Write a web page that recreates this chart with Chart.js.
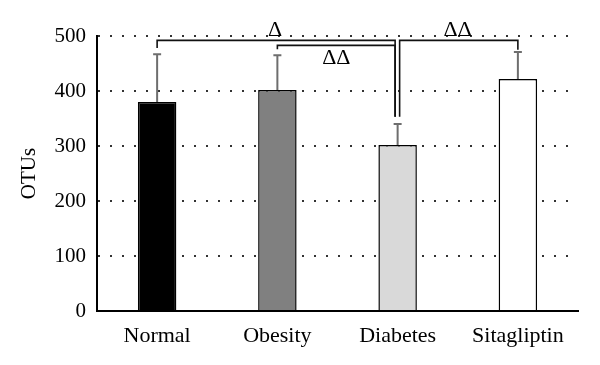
<!DOCTYPE html>
<html>
<head>
<meta charset="utf-8">
<script src="https://cdn.jsdelivr.net/npm/chart.js@4/dist/chart.umd.min.js"></script>
<style>
  html, body { margin: 0; padding: 0; background: #fff; }
  #wrap { width: 600px; height: 365px; }
</style>
</head>
<body>
<div id="wrap"><canvas id="grafico"></canvas></div>
<script>
// dados
const categories = ['Normal', 'Obesity', 'Diabetes', 'Sitagliptin'];
const otus = [380, 402, 302, 422];
const errTop = [467, 465, 340, 471];
const barColors = ['#000000', '#808080', '#d9d9d9', '#ffffff'];
const yTicks = [0, 100, 200, 300, 400, 500];

// colchetes de significância
const brackets = [
  { from: 0, to: 2, level: 492, legFrom: 478, legTo: 353, dxA: 0, dxB: -2.5 },
  { from: 1, to: 2, level: 483, legFrom: 476, legTo: 353, dxA: 0, dxB: -2.5 },
  { from: 2, to: 3, level: 492, legFrom: 353, legTo: 475, dxA: 2, dxB: 0 }
];
const marks = [
  { text: 'Δ', x: 0.98, y: 510 },
  { text: 'ΔΔ', x: 1.49, y: 459 },
  { text: 'ΔΔ', x: 2.5, y: 510 }
];

const serif = 'Liberation Serif';

const extras = {
  id: 'extras',
  afterDatasetsDraw(chart) {
    const ctx = chart.ctx;
    const x = chart.scales.x, y = chart.scales.y;
    ctx.save();
    // barras de erro
    ctx.strokeStyle = '#6e6e6e';
    ctx.lineWidth = 2;
    otus.forEach((v, i) => {
      const px = x.getPixelForValue(i);
      const y0 = y.getPixelForValue(v);
      const y1 = y.getPixelForValue(errTop[i]);
      ctx.beginPath();
      ctx.moveTo(px, y0); ctx.lineTo(px, y1);
      ctx.moveTo(px - 4, y1); ctx.lineTo(px + 4, y1);
      ctx.stroke();
    });
    // colchetes
    ctx.strokeStyle = '#111';
    ctx.lineWidth = 1.6;
    brackets.forEach(b => {
      const xa = x.getPixelForValue(b.from) + b.dxA;
      const xb = x.getPixelForValue(b.to) + b.dxB;
      const yl = y.getPixelForValue(b.level);
      ctx.beginPath();
      ctx.moveTo(xa, y.getPixelForValue(b.legFrom));
      ctx.lineTo(xa, yl);
      ctx.lineTo(xb, yl);
      ctx.lineTo(xb, y.getPixelForValue(b.legTo));
      ctx.stroke();
    });
    ctx.fillStyle = '#000';
    ctx.font = '22px "' + serif + '"';
    ctx.textAlign = 'center';
    ctx.textBaseline = 'middle';
    marks.forEach(m => {
      ctx.fillText(m.text, x.getPixelForValue(m.x), y.getPixelForValue(m.y));
    });
    ctx.restore();
  }
};

const config = {
  type: 'bar',
  data: {
    labels: categories,
    datasets: [{
      data: otus,
      backgroundColor: barColors,
      borderColor: '#000',
      borderWidth: 1.5,
      barPercentage: 0.32,
      categoryPercentage: 1
    }]
  },
  options: {
    responsive: true,
    maintainAspectRatio: false,
    animation: false,
    layout: { padding: { top: 36, right: 22, left: 0, bottom: 0 } },
    plugins: { legend: { display: false }, tooltip: { enabled: false } },
    scales: {
      x: {
        grid: { display: false },
        border: { color: '#000', width: 2 },
        ticks: { color: '#000', font: { family: serif, size: 22 }, padding: 4 },
        afterFit(s) { s.height = 54; }
      },
      y: {
        min: 0, max: 500,
        afterBuildTicks(s) { s.ticks = yTicks.map(v => ({ value: v })); },
        grid: { color: '#333', lineWidth: 2, tickLength: 0, drawTicks: false },
        border: { color: '#000', width: 2, dash: [2, 10] },
        ticks: { color: '#000', font: { family: serif, size: 21 }, padding: 11 },
        title: { display: true, text: 'OTUs', color: '#000', font: { family: serif, size: 21 }, padding: { top: 17, bottom: 0 } },
        afterFit(s) { s.width = 97; }
      }
    }
  },
  plugins: [extras]
};

new Chart(document.getElementById('grafico').getContext('2d'), config);
</script>
</body>
</html>
